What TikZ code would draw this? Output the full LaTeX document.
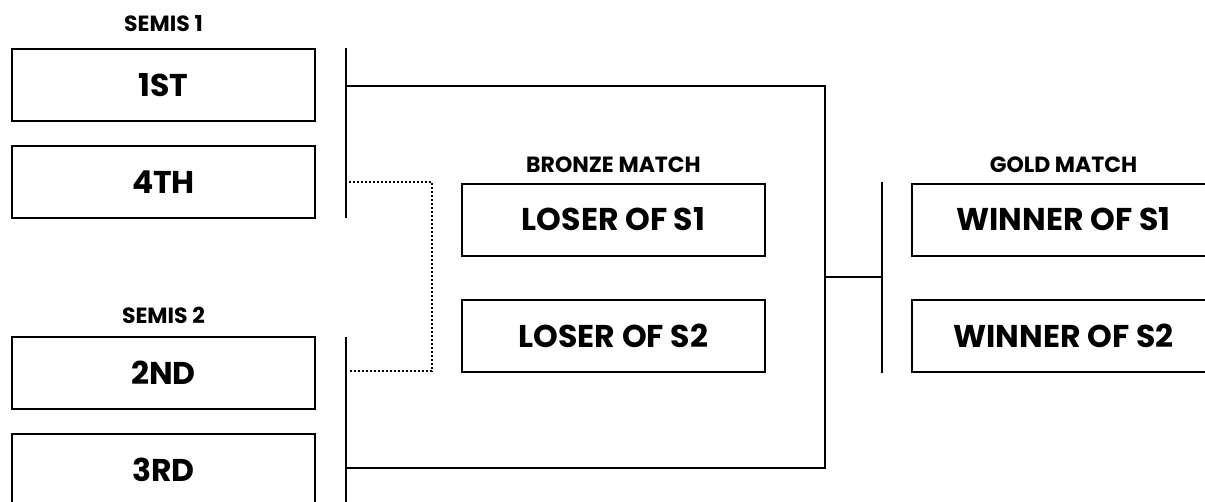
\documentclass[tikz,border=0pt]{standalone}
\usepackage{fontspec}
\setmainfont{Poppins}
\begin{document}
\begin{tikzpicture}[x=1pt,y=-1pt,
  seed/.style={draw=black,line width=2pt,minimum width=303pt,minimum height=72pt,inner sep=0pt,font=\fontsize{31.5}{34}\selectfont\bfseries},
  lbl/.style={font=\fontsize{22}{24}\selectfont\bfseries,inner sep=0pt},
  wire/.style={line width=2pt},
  dotwire/.style={line width=2pt,dotted}]
\clip (0,0) rectangle (1205,501);
\fill[white] (0,0) rectangle (1205,501);
\node[lbl] (s1) at (163.5,24) {SEMIS 1};
\node[lbl] (s2) at (163.5,315) {SEMIS 2};
\node[lbl] (bm) at (613.5,165) {BRONZE MATCH};
\node[lbl] (gm) at (1063.5,165) {GOLD MATCH};
\node[seed] (first) at (163.5,85) {1ST};
\node[seed] (fourth) at (163.5,182) {4TH};
\node[seed] (second) at (163.5,373) {2ND};
\node[seed] (third) at (163.5,470) {3RD};
\node[seed] (l1) at (613.5,219.5) {LOSER OF S1};
\node[seed] (l2) at (613.5,336) {LOSER OF S2};
\node[seed] (w1) at (1063.5,219.5) {WINNER OF S1};
\node[seed] (w2) at (1063.5,336) {WINNER OF S2};
% brackets
\coordinate (b1t) at (346,48);
\coordinate (b1b) at (346,218);
\coordinate (b2t) at (346,337);
\coordinate (b2b) at (346,505);
\coordinate (b3t) at (882,182);
\coordinate (b3b) at (882,373);
\draw[wire] (b1t) -- (b1b);
\draw[wire] (b2t) -- (b2b);
\draw[wire] (b3t) -- (b3b);
\coordinate (a1) at (346,86);
\coordinate (a2) at (825,86);
\coordinate (a3) at (825,468);
\coordinate (a4) at (346,468);
\draw[wire] (a1) -- (a2) -- (a3) -- (a4);
\coordinate (m1) at (825,277);
\coordinate (m2) at (882,277);
\draw[wire] (m1) -- (m2);
\coordinate (d1) at (349,182);
\coordinate (d2) at (432,182);
\coordinate (d3) at (432,371);
\coordinate (d4) at (349,371);
\draw[dotwire] (d1) -- (d2) -- (d3) -- (d4);
\end{tikzpicture}
\end{document}
